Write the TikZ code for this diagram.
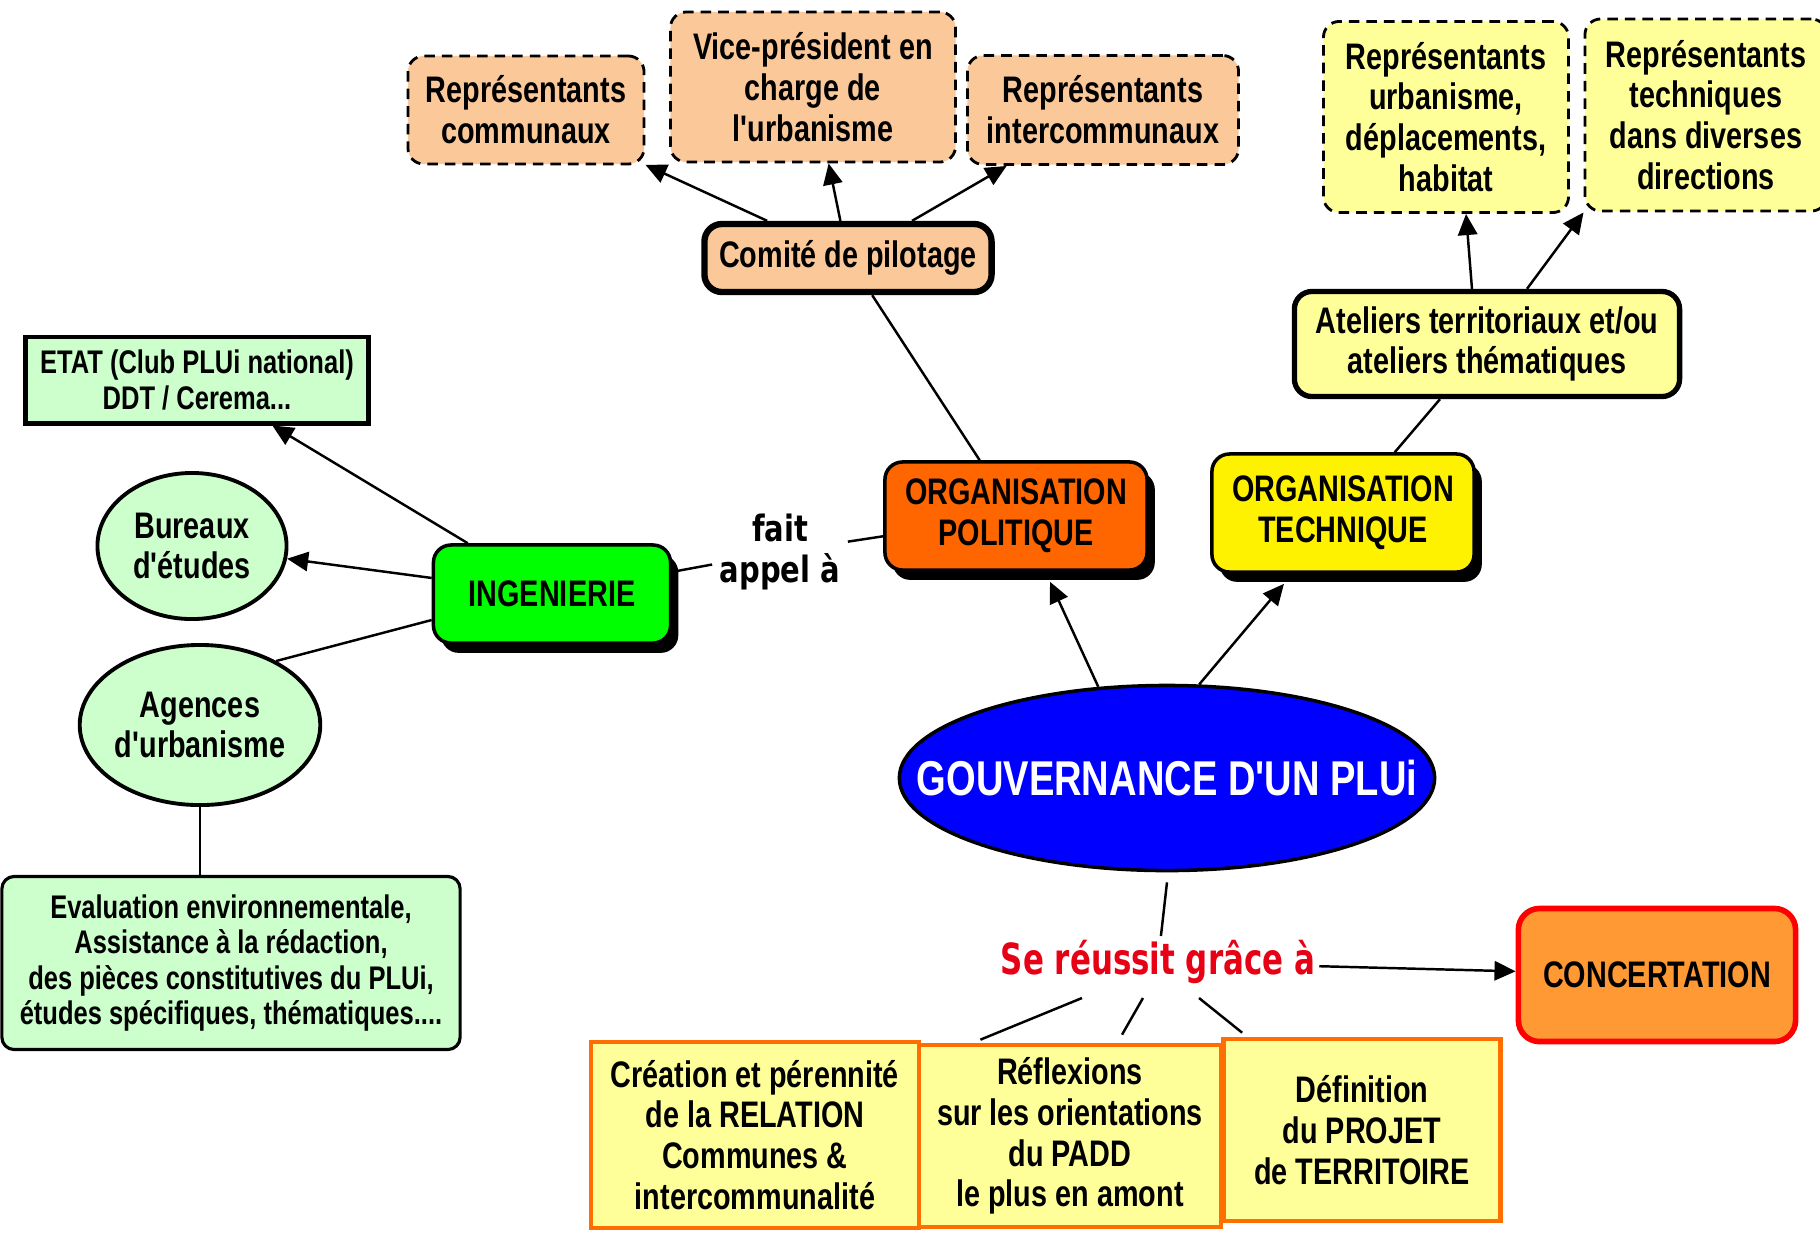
\documentclass[tikz,border=0pt]{standalone}
\usepackage{fontspec}
\setmainfont{Liberation Sans}[Ligatures=TeXOff,FakeStretch=0.78]
\newfontfamily\linkfont{DejaVu Sans}[Ligatures=TeXOff,FakeStretch=0.8]
\newfontfamily\reussitfont{DejaVu Sans}[Ligatures=TeXOff,FakeStretch=0.72]
\usetikzlibrary{arrows.meta,shapes.geometric,shadows}

\definecolor{peach}{RGB}{250,200,153}
\definecolor{lemon}{RGB}{255,255,153}
\definecolor{mint}{RGB}{204,255,204}
\definecolor{orgorange}{RGB}{255,102,0}
\definecolor{brightgreen}{RGB}{0,255,0}
\definecolor{pureblue}{RGB}{0,0,255}
\definecolor{concertorange}{RGB}{255,153,51}
\definecolor{reussitred}{RGB}{232,0,20}
\definecolor{resultorange}{RGB}{255,110,0}

\tikzstyle{concept}=[align=center,font=\fontsize{10.5}{11.6}\selectfont\bfseries,inner sep=2pt]
\tikzstyle{dashbox}=[concept,draw,dash pattern=on 3pt off 2pt,line width=0.8pt,rounded corners=4.5pt]
\tikzstyle{peachbox}=[dashbox,fill=peach]
\tikzstyle{lemonbox}=[dashbox,fill=lemon]
\tikzstyle{roundbox}=[concept,draw,line width=1pt,rounded corners=5pt]
\tikzstyle{shadowbox}=[roundbox,drop shadow={shadow xshift=2.2pt,shadow yshift=-2.8pt,fill=black,opacity=1}]
\tikzstyle{bubble}=[concept,ellipse,draw,line width=1.1pt,fill=mint,inner sep=0pt]
\tikzstyle{result}=[concept,draw=resultorange,line width=1.3pt,fill=lemon]
\tikzstyle{link}=[line width=0.7pt]

\begin{document}
\begin{tikzpicture}[x=0.01cm,y=-0.01cm,>={Triangle[length=6pt,width=5.5pt]}]
  \useasboundingbox (0,0) rectangle (1820,1232);
  \node (communaux) [peachbox,minimum width=2.36cm,minimum height=1.08cm] at (526,110) {Représentants\\communaux};
  \node (vicepres) [peachbox,minimum width=2.85cm,minimum height=1.50cm] at (813,87) {Vice-président en\\charge de\\l'urbanisme};
  \node (intercom) [peachbox,minimum width=2.71cm,minimum height=1.09cm] at (1103,110) {Représentants\\intercommunaux};
  \node (copil) [roundbox,fill=peach,line width=1.8pt,minimum width=2.87cm,minimum height=0.68cm] at (848,258) {Comité de pilotage};
  \node (repurba) [lemonbox,minimum width=2.45cm,minimum height=1.91cm] at (1446,117) {Représentants\\urbanisme,\\déplacements,\\habitat};
  \node (reptech) [lemonbox,minimum width=2.42cm,minimum height=1.92cm] at (1706,115) {Représentants\\techniques\\dans diverses\\directions};
  \node (ateliers) [roundbox,fill=lemon,line width=1.5pt,minimum width=3.85cm,minimum height=1.05cm] at (1487,344) {Ateliers territoriaux et/ou\\ateliers thématiques};
  \node (etat) [concept,draw,line width=1.4pt,fill=mint,minimum width=3.43cm,minimum height=0.86cm,font=\fontsize{9.3}{10.2}\selectfont\bfseries] at (197,380) {ETAT (Club PLUi national)\\DDT / Cerema...};
  \node (bureaux) [bubble,minimum width=1.89cm,minimum height=1.46cm] at (192,546) {Bureaux\\d'études};
  \node (agences) [bubble,minimum width=2.35cm,minimum height=1.60cm] at (200,725) {Agences\\d'urbanisme};
  \node (inge) [shadowbox,fill=brightgreen,minimum width=2.37cm,minimum height=0.98cm] at (552,594) {INGENIERIE};
  \node (appel) [concept,font=\linkfont\fontsize{10.3}{11.6}\selectfont\bfseries] at (780,552) {fait\\appel à};
  \node (orgpol) [shadowbox,fill=orgorange,minimum width=2.62cm,minimum height=1.08cm] at (1016,516) {ORGANISATION\\POLITIQUE};
  \node (orgtech) [shadowbox,fill=yellow,minimum width=2.62cm,minimum height=1.18cm] at (1343,513) {ORGANISATION\\TECHNIQUE};
  \node (gouv) [ellipse,draw,line width=1pt,fill=pureblue,minimum width=5.35cm,minimum height=1.85cm,
    label={[text=white,font=\fontsize{13.9}{15}\selectfont\bfseries]center:GOUVERNANCE D'UN PLUi}] at (1167,778) {};
  \node (evaluation) [roundbox,fill=mint,line width=0.9pt,rounded corners=3.5pt,minimum width=4.58cm,minimum height=1.73cm,font=\fontsize{9.3}{10}\selectfont\bfseries] at (231,963) {Evaluation environnementale,\\Assistance à la rédaction,\\des pièces constitutives du PLUi,\\études spécifiques, thématiques....};
  \node (reussit) [inner sep=1pt,text=reussitred,font=\reussitfont\fontsize{12.2}{14}\selectfont\bfseries] at (1158,962) {Se réussit grâce à};
  \node (concert) [roundbox,draw=red,fill=concertorange,line width=1.6pt,rounded corners=6pt,minimum width=2.77cm,minimum height=1.33cm] at (1657,975) {CONCERTATION};
  \node (relation) [result,minimum width=3.28cm,minimum height=1.86cm] at (755,1135) {Création et pérennité\\de la RELATION\\Communes \&\\intercommunalité};
  \node (padd) [result,minimum width=3.02cm,minimum height=1.82cm] at (1070,1136) {Réflexions\\sur les orientations\\du PADD\\le plus en amont};
  \node (projet) [result,minimum width=2.77cm,minimum height=1.82cm] at (1362,1130) {Définition\\du PROJET\\de TERRITOIRE};
  \path[->,link]
  (copil) edge (communaux)
  (copil) edge (vicepres)
  (copil) edge (intercom)
  ([xshift=-0.15cm]ateliers.north) edge ([xshift=0.2cm]repurba.south)
  ([xshift=0.4cm]ateliers.north) edge (reptech.south west)
  (gouv.127) edge ([xshift=0.34cm,yshift=-0.1cm]orgpol.south)
  (gouv.71) edge ([xshift=-0.59cm,yshift=-0.1cm]orgtech.south)
  (inge) edge (etat)
  (inge) edge (bureaux)
  (reussit) edge (concert);
  \path[draw,link]
  (copil) edge (orgpol)
  (ateliers) edge (orgtech)
  ([yshift=-0.26cm]inge.west) edge (agences.40)
  (agences.south) edge (agences.south |- evaluation.north)
  (inge) edge (appel)
  (appel) edge (orgpol)
  ([yshift=-0.1cm]gouv.south) edge (reussit)
  ([xshift=-0.76cm,yshift=-0.36cm]reussit.center) edge ([xshift=0.59cm]relation.north east)
  ([xshift=-0.15cm,yshift=-0.36cm]reussit.center) edge ([xshift=0.52cm,yshift=0.08cm]padd.north)
  ([xshift=0.41cm,yshift=-0.36cm]reussit.center) edge ([xshift=0.21cm,yshift=0.04cm]projet.north west);
\end{tikzpicture}
\end{document}
